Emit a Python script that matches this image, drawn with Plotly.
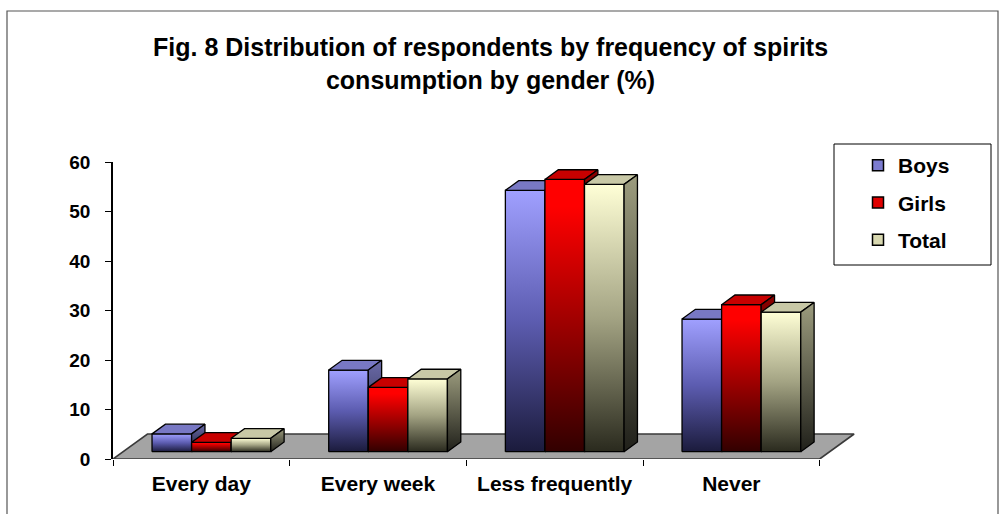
import plotly.graph_objects as go

# ---- data -------------------------------------------------------------
categories = ["Every day", "Every week", "Less frequently", "Never"]
series_names = ["Boys", "Girls", "Total"]
boys = [3.6, 16.5, 52.8, 26.8]
girls = [1.9, 13.0, 55.0, 29.7]
total = [2.7, 14.7, 54.0, 28.2]
y_ticks = [0, 10, 20, 30, 40, 50, 60]

FONT = "Liberation Sans, Arial, Helvetica, sans-serif"

# ---- oblique "3-D" projection expressed in axis units -------------------
DEPTH_X = 0.195   # x shift for a full unit of floor depth
DEPTH_Y = 5.05    # y rise for a full unit of floor depth
FRONT = 0.292     # depth of the column front faces
BACK = 0.68       # depth of the column back faces
GROUP = 0.672     # share of a category used by the three columns
BAR_W = GROUP / len(series_names)

styles = {
    "Boys": dict(
        front=[[0, "#1b1b3c"], [0.5, "#5c5cb0"], [1, "#a0a0ff"]],
        top="#7878c4",
        side=[[0, "#1c1c34"], [1, "#6a6aa8"]],
        legend="#7c7cd0",
    ),
    "Girls": dict(
        front=[[0, "#320000"], [0.5, "#a40000"], [0.9, "#ff0000"], [1, "#ff0000"]],
        top="#c80000",
        side=[[0, "#2a0000"], [1, "#8c0000"]],
        legend="#e00000",
    ),
    "Total": dict(
        front=[[0, "#2a2a1e"], [0.5, "#a3a383"], [1, "#ffffd6"]],
        top="#c8c8a6",
        side=[[0, "#20201a"], [1, "#9c9c7e"]],
        legend="#d8d8b0",
    ),
}
values = {"Boys": boys, "Girls": girls, "Total": total}


def face(xs, ys, fill=None, gradient=None, lw=1.3, lc="#000000"):
    """Closed filled polygon in data coordinates."""
    kw = dict(
        x=list(xs) + [xs[0]],
        y=list(ys) + [ys[0]],
        mode="lines",
        fill="toself",
        line=dict(color=lc, width=lw),
        hoverinfo="skip",
        showlegend=False,
    )
    if gradient is not None:
        kw["fillgradient"] = dict(type="vertical", colorscale=gradient)
    else:
        kw["fillcolor"] = fill
    return go.Scatter(**kw)


fig = go.Figure()

# floor of the chart
n = len(categories)
fig.add_trace(face([0, n, n + DEPTH_X, DEPTH_X], [0, 0, DEPTH_Y, DEPTH_Y],
                   fill="#a4a4a4", lw=1.6, lc="#3a3a3a"))

# columns, drawn left to right so nearer faces cover hidden ones
dx = (BACK - FRONT) * DEPTH_X
dy = (BACK - FRONT) * DEPTH_Y
base = FRONT * DEPTH_Y
for i, cat in enumerate(categories):
    centre = i + 0.5
    for k, name in enumerate(series_names):
        v = values[name][i]
        st = styles[name]
        x0 = centre - GROUP / 2 + k * BAR_W + FRONT * DEPTH_X
        x1 = x0 + BAR_W
        top = base + v
        # front face
        fig.add_trace(face([x0, x1, x1, x0], [base, base, top, top],
                           gradient=st["front"]))
        # top face
        fig.add_trace(face([x0, x1, x1 + dx, x0 + dx],
                           [top, top, top + dy, top + dy], fill=st["top"]))
        # right side face
        fig.add_trace(face([x1, x1 + dx, x1 + dx, x1],
                           [base, base + dy, top + dy, top],
                           gradient=st["side"]))

# legend entries
for name in series_names:
    fig.add_trace(go.Scatter(
        x=[None], y=[None], mode="markers", name=name, legendgroup=name,
        marker=dict(symbol="square", size=11, color=styles[name]["legend"],
                    line=dict(color="#000000", width=1.5)),
    ))

# plot-area geometry (pixels)
W, H = 1003, 514
ML, MR, MT, MB = 113, 148, 162, 55
pw, ph = W - ML - MR, H - MT - MB


def px_x(p):
    return (p - ML) / pw


def px_y(p):
    return (H - MB - p) / ph


fig.add_annotation(
    text="Fig. 8 Distribution of respondents by frequency of spirits<br>consumption by gender (%)",
    xref="paper", yref="paper", x=px_x(490), y=px_y(64),
    showarrow=False, xanchor="center", yanchor="middle", align="center",
    font=dict(family=FONT, size=25, color="#000000", weight="bold"),
)

# chart border and legend frame
fig.add_shape(type="rect", xref="paper", yref="paper",
              x0=px_x(7), x1=px_x(998), y0=px_y(530), y1=px_y(11),
              line=dict(color="#555555", width=1.2), fillcolor="rgba(0,0,0,0)",
              layer="below")
fig.add_shape(type="rect", xref="paper", yref="paper",
              x0=px_x(834), x1=px_x(991), y0=px_y(265), y1=px_y(144),
              line=dict(color="#000000", width=1), fillcolor="#ffffff",
              layer="below")

fig.update_layout(
    width=W, height=H, autosize=False,
    margin=dict(l=ML, r=MR, t=MT, b=MB, pad=0),
    paper_bgcolor="#ffffff", plot_bgcolor="rgba(0,0,0,0)",
    showlegend=True,
    legend=dict(
        x=px_x(830), y=px_y(145), xanchor="left", yanchor="top",
        bgcolor="rgba(0,0,0,0)", borderwidth=0,
        font=dict(family=FONT, size=21, color="#000000", weight="bold"),
        tracegroupgap=7, indentation=28, itemwidth=30,
    ),
    xaxis=dict(
        range=[0, n + 0.2], fixedrange=True,
        tickmode="array", tickvals=[i + 0.5 for i in range(n)], ticktext=categories,
        ticks="", showline=False, showgrid=False, zeroline=False,
        tickfont=dict(family=FONT, size=21, color="#000000", weight="bold"),
        ticklabelstandoff=10,
        minor=dict(tickmode="array", tickvals=list(range(n + 1)), ticks="outside",
                   ticklen=6, tickwidth=1, tickcolor="#000000", showgrid=False),
    ),
    yaxis=dict(
        range=[0, 60], fixedrange=True,
        tickmode="array", tickvals=y_ticks,
        ticks="outside", ticklen=6, tickwidth=1, tickcolor="#000000",
        showline=True, linecolor="#000000", linewidth=1.5,
        showgrid=False, zeroline=False,
        tickfont=dict(family=FONT, size=19, color="#000000", weight="bold"),
        ticklabelstandoff=11,
    ),
)

fig.write_html("out.html")
